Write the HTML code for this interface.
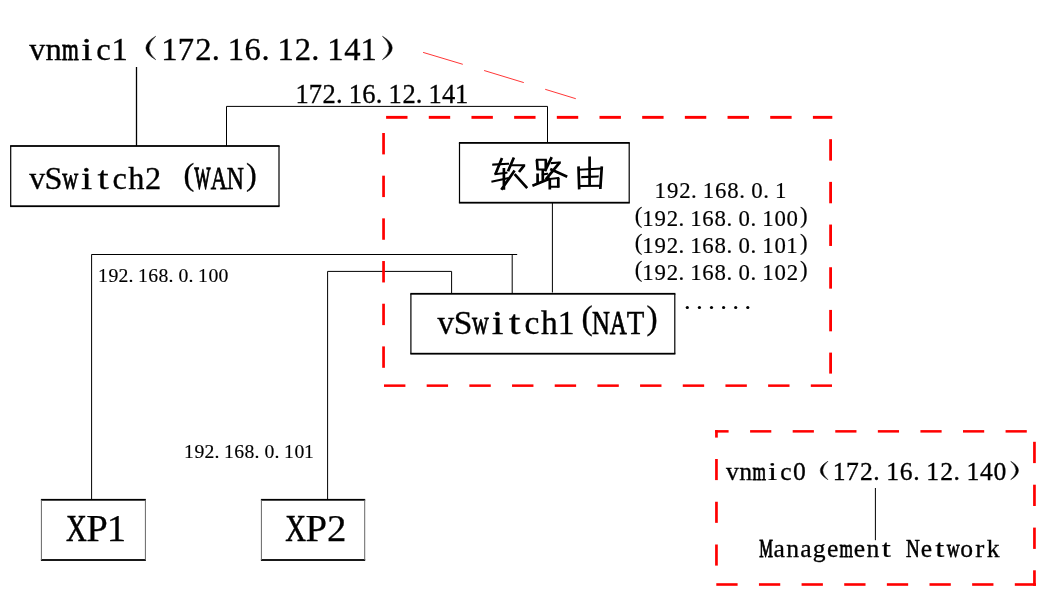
<!DOCTYPE html>
<html><head><meta charset="utf-8"><title>diagram</title>
<style>html,body{margin:0;padding:0;background:#fff;width:1058px;height:595px;overflow:hidden}
svg{display:block;will-change:transform} text{font-family:"Liberation Serif",serif}</style></head>
<body><svg width="1058" height="595" viewBox="0 0 1058 595" font-family="Liberation Serif, serif"><line x1="136.5" y1="67" x2="136.5" y2="146" stroke="#000" stroke-width="1.3"/><line x1="226.5" y1="106.4" x2="226.5" y2="146" stroke="#000" stroke-width="1"/><line x1="226.5" y1="106.4" x2="547.5" y2="106.4" stroke="#000" stroke-width="1"/><line x1="547.5" y1="106.4" x2="547.5" y2="143" stroke="#000" stroke-width="1"/><line x1="552.4" y1="202.7" x2="552.4" y2="292.5" stroke="#000" stroke-width="1"/><line x1="91.5" y1="254.5" x2="517.2" y2="254.5" stroke="#000" stroke-width="1"/><line x1="512.2" y1="254.5" x2="512.2" y2="293.8" stroke="#000" stroke-width="1"/><line x1="91.6" y1="254.5" x2="91.6" y2="499.7" stroke="#000" stroke-width="1"/><line x1="327.6" y1="271.4" x2="451.6" y2="271.4" stroke="#000" stroke-width="1"/><line x1="451.6" y1="271.4" x2="451.6" y2="293.8" stroke="#000" stroke-width="1"/><line x1="327.6" y1="271.4" x2="327.6" y2="499.7" stroke="#000" stroke-width="1"/><line x1="875.4" y1="488" x2="875.4" y2="540.2" stroke="#000" stroke-width="1"/><rect x="10.10" y="145.10" width="269.50" height="1.80" fill="#000"/><rect x="10.10" y="205.30" width="269.50" height="1.80" fill="#000"/><rect x="10.10" y="146.00" width="1.20" height="60.20" fill="#000"/><rect x="278.40" y="146.00" width="1.20" height="60.20" fill="#000"/><rect x="458.90" y="142.00" width="170.90" height="1.80" fill="#000"/><rect x="458.90" y="201.80" width="170.90" height="1.80" fill="#000"/><rect x="458.90" y="142.90" width="1.20" height="59.80" fill="#000"/><rect x="628.60" y="142.90" width="1.20" height="59.80" fill="#000"/><rect x="410.30" y="292.90" width="265.10" height="1.80" fill="#000"/><rect x="410.30" y="352.80" width="265.10" height="1.80" fill="#000"/><rect x="410.30" y="293.80" width="1.20" height="59.90" fill="#000"/><rect x="674.20" y="293.80" width="1.20" height="59.90" fill="#000"/><rect x="40.90" y="498.90" width="105.00" height="1.80" fill="#000"/><rect x="40.90" y="559.10" width="105.00" height="1.80" fill="#000"/><rect x="40.90" y="499.80" width="1.00" height="60.20" fill="#666"/><rect x="144.90" y="499.80" width="1.00" height="60.20" fill="#666"/><rect x="260.90" y="498.90" width="104.30" height="1.80" fill="#000"/><rect x="260.90" y="559.10" width="104.30" height="1.80" fill="#000"/><rect x="260.90" y="499.80" width="1.00" height="60.20" fill="#666"/><rect x="364.20" y="499.80" width="1.00" height="60.20" fill="#666"/><rect x="386.10" y="115.90" width="21.40" height="2.90" fill="#ff0000"/><rect x="428.78" y="115.90" width="21.40" height="2.90" fill="#ff0000"/><rect x="471.46" y="115.90" width="21.40" height="2.90" fill="#ff0000"/><rect x="514.14" y="115.90" width="21.40" height="2.90" fill="#ff0000"/><rect x="556.82" y="115.90" width="21.40" height="2.90" fill="#ff0000"/><rect x="599.50" y="115.90" width="21.40" height="2.90" fill="#ff0000"/><rect x="642.18" y="115.90" width="21.40" height="2.90" fill="#ff0000"/><rect x="684.86" y="115.90" width="21.40" height="2.90" fill="#ff0000"/><rect x="727.54" y="115.90" width="21.40" height="2.90" fill="#ff0000"/><rect x="770.22" y="115.90" width="21.40" height="2.90" fill="#ff0000"/><rect x="812.90" y="115.90" width="19.40" height="2.90" fill="#ff0000"/><rect x="384.00" y="384.40" width="21.40" height="2.50" fill="#ff0000"/><rect x="426.68" y="384.40" width="21.40" height="2.50" fill="#ff0000"/><rect x="469.36" y="384.40" width="21.40" height="2.50" fill="#ff0000"/><rect x="512.04" y="384.40" width="21.40" height="2.50" fill="#ff0000"/><rect x="554.72" y="384.40" width="21.40" height="2.50" fill="#ff0000"/><rect x="597.40" y="384.40" width="21.40" height="2.50" fill="#ff0000"/><rect x="640.08" y="384.40" width="21.40" height="2.50" fill="#ff0000"/><rect x="682.76" y="384.40" width="21.40" height="2.50" fill="#ff0000"/><rect x="725.44" y="384.40" width="21.40" height="2.50" fill="#ff0000"/><rect x="768.12" y="384.40" width="21.40" height="2.50" fill="#ff0000"/><rect x="810.80" y="384.40" width="21.20" height="2.50" fill="#ff0000"/><rect x="382.20" y="133.00" width="2.70" height="21.40" fill="#ff0000"/><rect x="382.20" y="175.68" width="2.70" height="21.40" fill="#ff0000"/><rect x="382.20" y="218.36" width="2.70" height="21.40" fill="#ff0000"/><rect x="382.20" y="261.04" width="2.70" height="21.40" fill="#ff0000"/><rect x="382.20" y="303.72" width="2.70" height="21.40" fill="#ff0000"/><rect x="382.20" y="346.40" width="2.70" height="21.40" fill="#ff0000"/><rect x="829.20" y="139.20" width="2.80" height="21.40" fill="#ff0000"/><rect x="829.20" y="181.88" width="2.80" height="21.40" fill="#ff0000"/><rect x="829.20" y="224.56" width="2.80" height="21.40" fill="#ff0000"/><rect x="829.20" y="267.24" width="2.80" height="21.40" fill="#ff0000"/><rect x="829.20" y="309.92" width="2.80" height="21.40" fill="#ff0000"/><rect x="829.20" y="352.60" width="2.80" height="21.00" fill="#ff0000"/><rect x="715.10" y="430.10" width="13.50" height="2.50" fill="#ff0000"/><rect x="715.10" y="430.10" width="2.70" height="7.50" fill="#ff0000"/><rect x="750.10" y="430.10" width="21.20" height="2.50" fill="#ff0000"/><rect x="792.68" y="430.10" width="21.20" height="2.50" fill="#ff0000"/><rect x="835.26" y="430.10" width="21.20" height="2.50" fill="#ff0000"/><rect x="877.84" y="430.10" width="21.20" height="2.50" fill="#ff0000"/><rect x="920.42" y="430.10" width="21.20" height="2.50" fill="#ff0000"/><rect x="963.00" y="430.10" width="21.20" height="2.50" fill="#ff0000"/><rect x="1005.58" y="430.10" width="21.20" height="2.50" fill="#ff0000"/><rect x="715.10" y="459.00" width="2.70" height="21.10" fill="#ff0000"/><rect x="715.10" y="501.75" width="2.70" height="21.10" fill="#ff0000"/><rect x="715.10" y="544.50" width="2.70" height="21.10" fill="#ff0000"/><rect x="716.30" y="583.20" width="21.30" height="2.60" fill="#ff0000"/><rect x="758.94" y="583.20" width="21.30" height="2.60" fill="#ff0000"/><rect x="801.58" y="583.20" width="21.30" height="2.60" fill="#ff0000"/><rect x="844.22" y="583.20" width="21.30" height="2.60" fill="#ff0000"/><rect x="886.86" y="583.20" width="21.30" height="2.60" fill="#ff0000"/><rect x="929.50" y="583.20" width="21.30" height="2.60" fill="#ff0000"/><rect x="972.14" y="583.20" width="21.30" height="2.60" fill="#ff0000"/><rect x="1014.80" y="583.20" width="21.20" height="2.60" fill="#ff0000"/><rect x="1033.10" y="570.30" width="2.70" height="15.50" fill="#ff0000"/><rect x="1033.10" y="441.80" width="2.70" height="21.30" fill="#ff0000"/><rect x="1033.10" y="484.70" width="2.70" height="21.30" fill="#ff0000"/><rect x="1033.10" y="527.60" width="2.70" height="21.30" fill="#ff0000"/><g stroke="#ff2020" stroke-width="0.9"><line x1="423.1" y1="52.4" x2="462.8" y2="64.3"/><line x1="484.1" y1="70.5" x2="523.8" y2="82.6"/><line x1="545.2" y1="89.3" x2="575.8" y2="98.7"/></g><g fill="#000" stroke="#000"><text transform="translate(29.13 59.70) scale(0.978 1)" font-size="32.6" stroke-width="0.35">v</text><text x="45.42" y="59.70" font-size="32.6" stroke-width="0.33">n</text><text transform="translate(61.88 59.70) scale(0.660 1)" font-size="32.6" stroke-width="0.91">m</text><text transform="translate(81.24 59.70) scale(1.242 1)" font-size="32.6" stroke-width="0.26">i</text><text x="96.15" y="59.70" font-size="32.6" stroke-width="0.33">c</text><text x="111.50" y="59.70" font-size="32.6" stroke-width="0.33">1</text><path d="M155.70 36.23 Q136.14 47.96 155.70 59.70 Q142.33 47.96 155.70 36.23Z" fill="#000" stroke="#000" stroke-width="0.5"/><text x="161.30" y="59.70" font-size="32.6" stroke-width="0.33">1</text><text x="177.75" y="59.70" font-size="32.6" stroke-width="0.33">7</text><text x="195.13" y="59.70" font-size="32.6" stroke-width="0.33">2</text><text x="211.64" y="59.70" font-size="32.6" stroke-width="0.33">.</text><text x="227.70" y="59.70" font-size="32.6" stroke-width="0.33">1</text><text x="244.54" y="59.70" font-size="32.6" stroke-width="0.33">6</text><text x="261.44" y="59.70" font-size="32.6" stroke-width="0.33">.</text><text x="277.50" y="59.70" font-size="32.6" stroke-width="0.33">1</text><text x="294.73" y="59.70" font-size="32.6" stroke-width="0.33">2</text><text x="311.24" y="59.70" font-size="32.6" stroke-width="0.33">.</text><text x="327.30" y="59.70" font-size="32.6" stroke-width="0.33">1</text><text x="344.29" y="59.70" font-size="32.6" stroke-width="0.33">4</text><text x="360.50" y="59.70" font-size="32.6" stroke-width="0.33">1</text><path d="M382.47 36.23 Q402.03 47.96 382.47 59.70 Q395.84 47.96 382.47 36.23Z" fill="#000" stroke="#000" stroke-width="0.5"/></g><g fill="#000" stroke="#000"><text x="295.51" y="102.60" font-size="26.5" stroke-width="0.32">1</text><text x="308.68" y="102.60" font-size="26.5" stroke-width="0.32">7</text><text x="322.62" y="102.60" font-size="26.5" stroke-width="0.32">2</text><text x="335.90" y="102.60" font-size="26.5" stroke-width="0.32">.</text><text x="348.71" y="102.60" font-size="26.5" stroke-width="0.32">1</text><text x="362.20" y="102.60" font-size="26.5" stroke-width="0.32">6</text><text x="375.80" y="102.60" font-size="26.5" stroke-width="0.32">.</text><text x="388.61" y="102.60" font-size="26.5" stroke-width="0.32">1</text><text x="402.42" y="102.60" font-size="26.5" stroke-width="0.32">2</text><text x="415.70" y="102.60" font-size="26.5" stroke-width="0.32">.</text><text x="428.51" y="102.60" font-size="26.5" stroke-width="0.32">1</text><text x="442.12" y="102.60" font-size="26.5" stroke-width="0.32">4</text><text x="455.11" y="102.60" font-size="26.5" stroke-width="0.32">1</text></g><g fill="#000" stroke="#000"><text transform="translate(29.16 188.80) scale(0.983 1)" font-size="32.3" stroke-width="0.34">v</text><text x="44.57" y="188.80" font-size="32.3" stroke-width="0.32">S</text><text transform="translate(62.20 188.80) scale(0.686 1)" font-size="32.3" stroke-width="0.84">w</text><text transform="translate(81.05 188.80) scale(1.248 1)" font-size="32.3" stroke-width="0.26">i</text><text transform="translate(97.54 188.80) scale(1.249 1)" font-size="32.3" stroke-width="0.26">t</text><text x="112.46" y="188.80" font-size="32.3" stroke-width="0.32">c</text><text x="128.26" y="188.80" font-size="32.3" stroke-width="0.32">h</text><text x="144.92" y="188.80" font-size="32.3" stroke-width="0.32">2</text><text x="183.61" y="184.76" font-size="32.3" stroke-width="0.32">(</text><text transform="translate(194.45 188.80) scale(0.522 1)" font-size="32.3" stroke-width="1.35">W</text><text transform="translate(210.77 188.80) scale(0.697 1)" font-size="32.3" stroke-width="0.81">A</text><text transform="translate(226.84 188.80) scale(0.733 1)" font-size="32.3" stroke-width="0.73">N</text><text x="245.97" y="184.76" font-size="32.3" stroke-width="0.32">)</text></g><g fill="#000" stroke="#000"><text x="654.58" y="198.40" font-size="22.8" stroke-width="0.18">1</text><text x="667.05" y="198.40" font-size="22.8" stroke-width="0.18">9</text><text x="679.13" y="198.40" font-size="22.8" stroke-width="0.18">2</text><text x="691.01" y="198.40" font-size="22.8" stroke-width="0.18">.</text><text x="702.78" y="198.40" font-size="22.8" stroke-width="0.18">1</text><text x="715.00" y="198.40" font-size="22.8" stroke-width="0.18">6</text><text x="727.20" y="198.40" font-size="22.8" stroke-width="0.18">8</text><text x="739.21" y="198.40" font-size="22.8" stroke-width="0.18">.</text><text x="751.30" y="198.40" font-size="22.8" stroke-width="0.18">0</text><text x="763.31" y="198.40" font-size="22.8" stroke-width="0.18">.</text><text x="775.08" y="198.40" font-size="22.8" stroke-width="0.18">1</text></g><g fill="#000" stroke="#000"><text x="634.67" y="222.75" font-size="22.8" stroke-width="0.18">(</text><text x="642.18" y="225.60" font-size="22.8" stroke-width="0.18">1</text><text x="654.60" y="225.60" font-size="22.8" stroke-width="0.18">9</text><text x="666.63" y="225.60" font-size="22.8" stroke-width="0.18">2</text><text x="678.47" y="225.60" font-size="22.8" stroke-width="0.18">.</text><text x="690.18" y="225.60" font-size="22.8" stroke-width="0.18">1</text><text x="702.35" y="225.60" font-size="22.8" stroke-width="0.18">6</text><text x="714.50" y="225.60" font-size="22.8" stroke-width="0.18">8</text><text x="726.47" y="225.60" font-size="22.8" stroke-width="0.18">.</text><text x="738.50" y="225.60" font-size="22.8" stroke-width="0.18">0</text><text x="750.47" y="225.60" font-size="22.8" stroke-width="0.18">.</text><text x="762.18" y="225.60" font-size="22.8" stroke-width="0.18">1</text><text x="774.50" y="225.60" font-size="22.8" stroke-width="0.18">0</text><text x="786.50" y="225.60" font-size="22.8" stroke-width="0.18">0</text><text x="799.94" y="222.75" font-size="22.8" stroke-width="0.18">)</text></g><g fill="#000" stroke="#000"><text x="634.67" y="250.05" font-size="22.8" stroke-width="0.18">(</text><text x="642.18" y="252.90" font-size="22.8" stroke-width="0.18">1</text><text x="654.60" y="252.90" font-size="22.8" stroke-width="0.18">9</text><text x="666.63" y="252.90" font-size="22.8" stroke-width="0.18">2</text><text x="678.47" y="252.90" font-size="22.8" stroke-width="0.18">.</text><text x="690.18" y="252.90" font-size="22.8" stroke-width="0.18">1</text><text x="702.35" y="252.90" font-size="22.8" stroke-width="0.18">6</text><text x="714.50" y="252.90" font-size="22.8" stroke-width="0.18">8</text><text x="726.47" y="252.90" font-size="22.8" stroke-width="0.18">.</text><text x="738.50" y="252.90" font-size="22.8" stroke-width="0.18">0</text><text x="750.47" y="252.90" font-size="22.8" stroke-width="0.18">.</text><text x="762.18" y="252.90" font-size="22.8" stroke-width="0.18">1</text><text x="774.50" y="252.90" font-size="22.8" stroke-width="0.18">0</text><text x="786.18" y="252.90" font-size="22.8" stroke-width="0.18">1</text><text x="799.94" y="250.05" font-size="22.8" stroke-width="0.18">)</text></g><g fill="#000" stroke="#000"><text x="634.67" y="277.25" font-size="22.8" stroke-width="0.18">(</text><text x="642.18" y="280.10" font-size="22.8" stroke-width="0.18">1</text><text x="654.60" y="280.10" font-size="22.8" stroke-width="0.18">9</text><text x="666.63" y="280.10" font-size="22.8" stroke-width="0.18">2</text><text x="678.47" y="280.10" font-size="22.8" stroke-width="0.18">.</text><text x="690.18" y="280.10" font-size="22.8" stroke-width="0.18">1</text><text x="702.35" y="280.10" font-size="22.8" stroke-width="0.18">6</text><text x="714.50" y="280.10" font-size="22.8" stroke-width="0.18">8</text><text x="726.47" y="280.10" font-size="22.8" stroke-width="0.18">.</text><text x="738.50" y="280.10" font-size="22.8" stroke-width="0.18">0</text><text x="750.47" y="280.10" font-size="22.8" stroke-width="0.18">.</text><text x="762.18" y="280.10" font-size="22.8" stroke-width="0.18">1</text><text x="774.50" y="280.10" font-size="22.8" stroke-width="0.18">0</text><text x="786.63" y="280.10" font-size="22.8" stroke-width="0.18">2</text><text x="799.94" y="277.25" font-size="22.8" stroke-width="0.18">)</text></g><g fill="#000" stroke="#000"><text transform="translate(437.51 333.60) scale(0.989 1)" font-size="33.5" stroke-width="0.35">v</text><text x="453.65" y="333.60" font-size="33.5" stroke-width="0.34">S</text><text transform="translate(471.99 333.60) scale(0.690 1)" font-size="33.5" stroke-width="0.84">w</text><text transform="translate(491.66 333.60) scale(1.256 1)" font-size="33.5" stroke-width="0.27">i</text><text transform="translate(508.87 333.60) scale(1.257 1)" font-size="33.5" stroke-width="0.27">t</text><text x="524.49" y="333.60" font-size="33.5" stroke-width="0.34">c</text><text x="540.98" y="333.60" font-size="33.5" stroke-width="0.34">h</text><text x="557.71" y="333.60" font-size="33.5" stroke-width="0.34">1</text><text x="581.48" y="329.41" font-size="33.5" stroke-width="0.34">(</text><text transform="translate(592.05 333.60) scale(0.738 1)" font-size="33.5" stroke-width="0.74">N</text><text transform="translate(609.79 333.60) scale(0.702 1)" font-size="33.5" stroke-width="0.82">A</text><text transform="translate(626.75 333.60) scale(0.858 1)" font-size="33.5" stroke-width="0.52">T</text><text x="646.56" y="329.41" font-size="33.5" stroke-width="0.34">)</text></g><g fill="#000" stroke="#000"><text x="98.10" y="282.40" font-size="19.7" stroke-width="0.16">1</text><text x="108.46" y="282.40" font-size="19.7" stroke-width="0.16">9</text><text x="118.49" y="282.40" font-size="19.7" stroke-width="0.16">2</text><text x="128.44" y="282.40" font-size="19.7" stroke-width="0.16">.</text><text x="138.10" y="282.40" font-size="19.7" stroke-width="0.16">1</text><text x="148.25" y="282.40" font-size="19.7" stroke-width="0.16">6</text><text x="158.38" y="282.40" font-size="19.7" stroke-width="0.16">8</text><text x="168.44" y="282.40" font-size="19.7" stroke-width="0.16">.</text><text x="178.38" y="282.40" font-size="19.7" stroke-width="0.16">0</text><text x="188.44" y="282.40" font-size="19.7" stroke-width="0.16">.</text><text x="198.10" y="282.40" font-size="19.7" stroke-width="0.16">1</text><text x="208.38" y="282.40" font-size="19.7" stroke-width="0.16">0</text><text x="218.38" y="282.40" font-size="19.7" stroke-width="0.16">0</text></g><g fill="#000" stroke="#000"><text x="184.10" y="458.00" font-size="19.7" stroke-width="0.16">1</text><text x="194.46" y="458.00" font-size="19.7" stroke-width="0.16">9</text><text x="204.49" y="458.00" font-size="19.7" stroke-width="0.16">2</text><text x="214.44" y="458.00" font-size="19.7" stroke-width="0.16">.</text><text x="224.10" y="458.00" font-size="19.7" stroke-width="0.16">1</text><text x="234.25" y="458.00" font-size="19.7" stroke-width="0.16">6</text><text x="244.38" y="458.00" font-size="19.7" stroke-width="0.16">8</text><text x="254.44" y="458.00" font-size="19.7" stroke-width="0.16">.</text><text x="264.38" y="458.00" font-size="19.7" stroke-width="0.16">0</text><text x="274.44" y="458.00" font-size="19.7" stroke-width="0.16">.</text><text x="284.10" y="458.00" font-size="19.7" stroke-width="0.16">1</text><text x="294.38" y="458.00" font-size="19.7" stroke-width="0.16">0</text><text x="304.10" y="458.00" font-size="19.7" stroke-width="0.16">1</text></g><g fill="#000" stroke="#000"><text transform="translate(66.05 541.10) scale(0.742 1)" font-size="38.8" stroke-width="0.61">X</text><text x="86.23" y="541.10" font-size="38.8" stroke-width="0.25">P</text><text x="106.86" y="541.10" font-size="38.8" stroke-width="0.25">1</text></g><g fill="#000" stroke="#000"><text transform="translate(285.35 541.10) scale(0.742 1)" font-size="38.8" stroke-width="0.61">X</text><text x="305.53" y="541.10" font-size="38.8" stroke-width="0.25">P</text><text x="326.92" y="541.10" font-size="38.8" stroke-width="0.25">2</text></g><g fill="#000" stroke="#000"><text x="726.10" y="479.70" font-size="25.6" stroke-width="0.31">v</text><text x="739.37" y="479.70" font-size="25.6" stroke-width="0.31">n</text><text transform="translate(752.48 479.70) scale(0.674 1)" font-size="25.6" stroke-width="0.84">m</text><text transform="translate(768.05 479.70) scale(1.274 1)" font-size="25.6" stroke-width="0.24">i</text><text x="780.21" y="479.70" font-size="25.6" stroke-width="0.31">c</text><text x="792.95" y="479.70" font-size="25.6" stroke-width="0.31">0</text><path d="M827.92 461.27 Q812.56 470.48 827.92 479.70 Q817.43 470.48 827.92 461.27Z" fill="#000" stroke="#000" stroke-width="0.5"/><text x="832.70" y="479.70" font-size="25.6" stroke-width="0.31">1</text><text x="845.96" y="479.70" font-size="25.6" stroke-width="0.31">7</text><text x="859.94" y="479.70" font-size="25.6" stroke-width="0.31">2</text><text x="873.16" y="479.70" font-size="25.6" stroke-width="0.31">.</text><text x="886.18" y="479.70" font-size="25.6" stroke-width="0.31">1</text><text x="899.74" y="479.70" font-size="25.6" stroke-width="0.31">6</text><text x="913.27" y="479.70" font-size="25.6" stroke-width="0.31">.</text><text x="926.29" y="479.70" font-size="25.6" stroke-width="0.31">1</text><text x="940.16" y="479.70" font-size="25.6" stroke-width="0.31">2</text><text x="953.38" y="479.70" font-size="25.6" stroke-width="0.31">.</text><text x="966.40" y="479.70" font-size="25.6" stroke-width="0.31">1</text><text x="980.08" y="479.70" font-size="25.6" stroke-width="0.31">4</text><text x="993.50" y="479.70" font-size="25.6" stroke-width="0.31">0</text><path d="M1010.77 461.27 Q1026.13 470.48 1010.77 479.70 Q1021.26 470.48 1010.77 461.27Z" fill="#000" stroke="#000" stroke-width="0.5"/></g><g fill="#000" stroke="#000"><text transform="translate(759.16 556.70) scale(0.601 1)" font-size="25.6" stroke-width="1.04">M</text><text x="773.41" y="556.70" font-size="25.6" stroke-width="0.31">a</text><text x="786.24" y="556.70" font-size="25.6" stroke-width="0.31">n</text><text x="800.15" y="556.70" font-size="25.6" stroke-width="0.31">a</text><text x="812.77" y="556.70" font-size="25.6" stroke-width="0.31">g</text><text x="827.11" y="556.70" font-size="25.6" stroke-width="0.31">e</text><text transform="translate(839.46 556.70) scale(0.674 1)" font-size="25.6" stroke-width="0.84">m</text><text x="853.85" y="556.70" font-size="25.6" stroke-width="0.31">e</text><text x="866.46" y="556.70" font-size="25.6" stroke-width="0.31">n</text><text transform="translate(881.73 556.70) scale(1.275 1)" font-size="25.6" stroke-width="0.24">t</text><text transform="translate(906.12 556.70) scale(0.746 1)" font-size="25.6" stroke-width="0.69">N</text><text x="920.70" y="556.70" font-size="25.6" stroke-width="0.31">e</text><text transform="translate(935.21 556.70) scale(1.275 1)" font-size="25.6" stroke-width="0.24">t</text><text transform="translate(946.76 556.70) scale(0.697 1)" font-size="25.6" stroke-width="0.79">w</text><text x="960.15" y="556.70" font-size="25.6" stroke-width="0.31">o</text><text transform="translate(975.23 556.70) scale(1.064 1)" font-size="25.6" stroke-width="0.29">r</text><text x="986.65" y="556.70" font-size="25.6" stroke-width="0.31">k</text></g><circle cx="687.30" cy="307.5" r="1.6" fill="#000"/><circle cx="699.40" cy="307.5" r="1.6" fill="#000"/><circle cx="711.50" cy="307.5" r="1.6" fill="#000"/><circle cx="723.60" cy="307.5" r="1.6" fill="#000"/><circle cx="735.70" cy="307.5" r="1.6" fill="#000"/><circle cx="747.80" cy="307.5" r="1.6" fill="#000"/><path d="M493.20 164.60L508.00 163.80M495.40 174.20L506.50 172.70M492.40 181.60L507.60 178.30M511.70 165.30L524.20 165.30" fill="none" stroke="#000" stroke-width="2.0" stroke-linecap="square"/><path d="M502.00 157.90L495.40 174.20M503.90 167.90L503.90 189.70M513.90 157.50L508.00 171.20M524.20 165.30L519.00 172.00M514.60 170.50L501.30 189.70M514.60 174.20L527.20 188.20" fill="none" stroke="#000" stroke-width="2.7" stroke-linecap="butt"/><path d="M536.90 159.80L545.80 159.80M545.80 169.40L537.60 169.40M542.80 174.60L547.20 173.80M551.70 163.10L559.80 162.40M549.80 179.00L558.30 177.90M550.20 186.80L558.30 186.80" fill="none" stroke="#000" stroke-width="2.0" stroke-linecap="square"/><path d="M545.80 159.80L545.80 169.40M537.60 169.40L536.90 159.80M542.80 169.40L542.80 180.80M537.60 173.40L537.60 183.00M532.40 185.70L550.20 178.60M551.70 157.20L545.00 171.20M559.80 162.40L545.80 179.40M550.20 169.00L567.20 176.80M549.80 189.40L549.80 179.00M558.30 177.90L558.30 187.50" fill="none" stroke="#000" stroke-width="2.7" stroke-linecap="butt"/><path d="M579.20 169.80L601.80 168.60M582.20 177.10L597.70 176.40M579.20 186.00L600.30 185.70" fill="none" stroke="#000" stroke-width="2.0" stroke-linecap="square"/><path d="M578.50 166.40L579.20 189.40M601.80 166.40L600.30 189.00M589.60 156.40L589.60 185.70" fill="none" stroke="#000" stroke-width="2.7" stroke-linecap="butt"/></svg></body></html>
